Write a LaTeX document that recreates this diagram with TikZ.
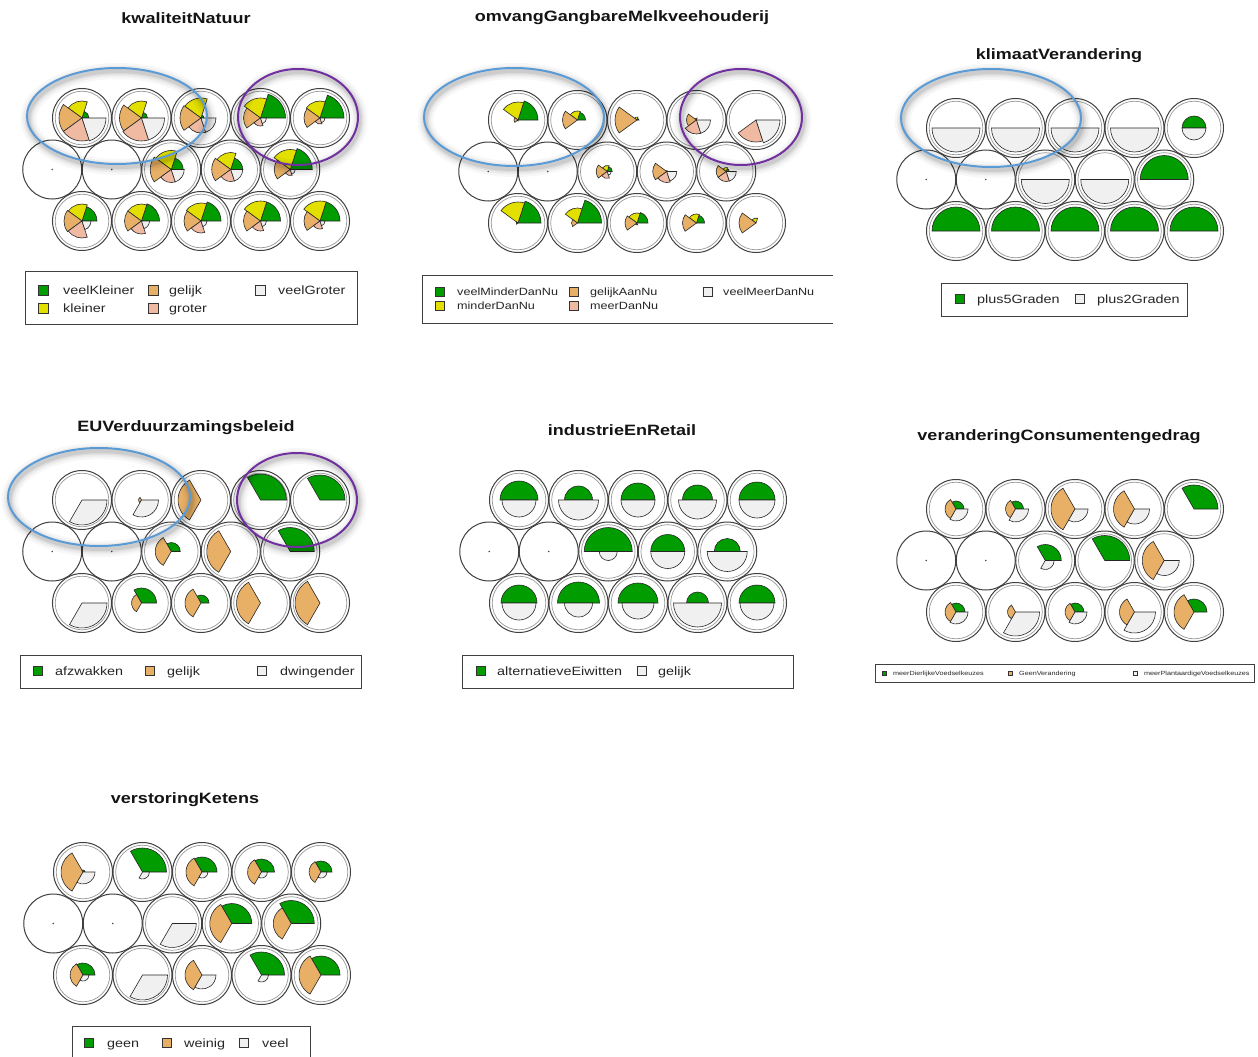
\documentclass[tikz,border=0pt]{standalone}
\usepackage{fontspec}
\setmainfont{Liberation Sans}
\newfontfamily\headfont[FakeStretch=1.2]{Liberation Sans}
\newfontfamily\legfont[FakeStretch=1.2]{Liberation Sans}

% segment colours
\definecolor{sgreen}{HTML}{009C00}
\definecolor{syellow}{HTML}{E3E000}
\definecolor{sorange}{HTML}{E8B066}
\definecolor{ssalmon}{HTML}{F0BAA2}
\definecolor{swhite}{HTML}{F0F0F0}
\definecolor{hiblue}{HTML}{5B9BD5}
\definecolor{hipurple}{HTML}{7030A0}
% palettes: V = five classes, T = three classes, B = two classes
\colorlet{segV1}{sgreen}\colorlet{segV2}{syellow}\colorlet{segV3}{sorange}
\colorlet{segV4}{ssalmon}\colorlet{segV5}{swhite}
\colorlet{segT1}{sgreen}\colorlet{segT2}{sorange}\colorlet{segT3}{swhite}
\colorlet{segB1}{sgreen}\colorlet{segB2}{swhite}

\tikzset{
  unitring/.style={draw=black!75, line width=1pt},
  innerring/.style={draw=black!40, line width=0.7pt},
  wedge/.style={draw=black!85, line width=0.6pt},
  title/.style={font={\headfont\fontsize{15}{17}\selectfont\bfseries}, text=black!92, inner sep=0pt},
  legtext/.style={font={\legfont\fontsize{\legsize}{\legsize}\selectfont}, text=black!85, inner sep=0pt, anchor=base west},
  keysq/.style={draw=black!80, line width=0.8pt, minimum size=\keysize pt, inner sep=0pt},
  legbox/.style={draw=black!75, line width=1pt},
}

% one map unit: row, column, list of segment radii (empty list = empty unit)
\newcommand\cell[3]{%
  \pgfmathsetmacro\cx{\px+(#2-1)*\dx-(#1==2)*\dx/2}%
  \pgfmathsetmacro\cy{\py+(#1-1)*\dy}%
  \begin{scope}[shift={(\cx pt,-\cy pt)}]
    \draw[unitring] (0,0) circle[radius=29.5pt];
    \if\relax\detokenize{#3}\relax
      \fill[black!70] (0,0) circle[radius=0.8pt];
    \else
      \draw[innerring] (0,0) circle[radius=26.8pt];
      \foreach \r [count=\i] in {#3} {
        \ifdim\r pt>0.2pt
          \pgfmathsetmacro\aS{(\i-1)*360/\nseg}
          \pgfmathsetmacro\aE{\i*360/\nseg}
          \filldraw[wedge, fill=seg\pal\i] (0,0) -- (\aS:\r pt)
            arc[start angle=\aS, end angle=\aE, radius=\r pt] -- cycle;
        \fi
      }
    \fi
  \end{scope}}

% highlighted cluster: centre x, centre y, x radius, y radius, colour
\newcommand\hilite[5]{%
  \foreach \w/\o in {16/0.03,11/0.045,7/0.06,4/0.08}{
    \draw[line width=\w pt, black, opacity=\o] (#1+1.5,-#2-3) ellipse[x radius=#3 pt, y radius=#4 pt];}
  \draw[line width=2pt, #5] (#1,-#2) ellipse[x radius=#3 pt, y radius=#4 pt];}

% legend entry: name, square x, text x, y, fill, label
\newcommand\legitem[6]{%
  \node[keysq, fill=#5] (#1k) at (#2,-#4) {};
  \node[legtext] (#1) at (#3,{-#4-0.36*\legsize}) {#6};}

\begin{document}
\begin{tikzpicture}[x=1pt,y=1pt]
\useasboundingbox (0,0) rectangle (1258,-1057);
\fill[white] (0,0) rectangle (1258,-1057);
\clip (0,0) rectangle (1258,-1057);
\def\dx{59.5}\def\dy{51.5}

% ---------------- kwaliteitNatuur
\node[title] (tq) at (186,-18) {kwaliteitNatuur};
\def\px{82}\def\py{118}\def\pal{V}\def\nseg{5}
\cell{1}{1}{7,17,23,23,24}
\cell{1}{2}{6,17,22,23,23}
\cell{1}{3}{3,20,21,15,15}
\cell{1}{4}{25,20,17,8,6}
\cell{1}{5}{24,17,16,6,5}
\cell{2}{1}{}\cell{2}{2}{}
\cell{2}{3}{12,19,21,13,13}
\cell{2}{4}{12,17,19,12,12}
\cell{2}{5}{22,20,16,6,5}
\cell{3}{1}{15,17,18,17,9}
\cell{3}{2}{18,17,17,13,8}
\cell{3}{3}{20,18,17,12,6}
\cell{3}{4}{20,20,17,10,6}
\cell{3}{5}{20,20,16,8,5}
\hilite{117}{116}{90}{48}{hiblue}
\hilite{298}{117}{60}{48}{hipurple}
\draw[legbox] (25,-271) rectangle (357,-324);
\def\legsize{12}\def\keysize{10}
\legitem{qa}{43}{63}{290}{sgreen}{veelKleiner}
\legitem{qb}{43}{63}{308}{syellow}{kleiner}
\legitem{qc}{153}{169}{290}{sorange}{gelijk}
\legitem{qd}{153}{169}{308}{ssalmon}{groter}
\legitem{qe}{260}{278}{290}{swhite}{veelGroter}

% ---------------- omvangGangbareMelkveehouderij
\node[title] (to) at (622,-18) {omvangGangbareMelkveehouderij};
\def\px{518}\def\py{120}\def\pal{V}\def\nseg{5}
\cell{1}{1}{20,18,4,1,0}
\cell{1}{2}{8,9,15,0,0}
\cell{1}{3}{2,3,22,0,0}
\cell{1}{4}{0,2,10,14,14}
\cell{1}{5}{0,0,0,22,24}
\cell{2}{1}{}\cell{2}{2}{}
\cell{2}{3}{5,6,11,7,4}
\cell{2}{4}{0,1,14,11,10}
\cell{2}{5}{3,4,10,10,10}
\cell{3}{1}{23,21,2,0,0}
\cell{3}{2}{24,15,6,0,0}
\cell{3}{3}{11,10,12,2,0}
\cell{3}{4}{8,9,14,0,0}
\cell{3}{5}{0,5,17,0,0}
\hilite{514}{117}{90}{49}{hiblue}
\hilite{741}{117}{61}{48}{hipurple}
\draw[legbox] (833,-275) -- (422,-275) -- (422,-323) -- (833,-323);
\def\legsize{10.5}\def\keysize{8.5}
\legitem{oa}{440}{457}{292}{sgreen}{veelMinderDanNu}
\legitem{ob}{440}{457}{306}{syellow}{minderDanNu}
\legitem{oc}{574}{590}{292}{sorange}{gelijkAanNu}
\legitem{od}{574}{590}{306}{ssalmon}{meerDanNu}
\legitem{oe}{708}{723}{292}{swhite}{veelMeerDanNu}

% ---------------- klimaatVerandering
\node[title] (tk) at (1059,-56) {klimaatVerandering};
\def\px{956}\def\py{128}\def\pal{B}\def\nseg{2}
\cell{1}{1}{0,24}
\cell{1}{2}{0,24}
\cell{1}{3}{0,24}
\cell{1}{4}{0,24}
\cell{1}{5}{12,12}
\cell{2}{1}{}\cell{2}{2}{}
\cell{2}{3}{0,24}
\cell{2}{4}{0,24}
\cell{2}{5}{24,0}
\cell{3}{1}{24,0}
\cell{3}{2}{24,0}
\cell{3}{3}{24,0}
\cell{3}{4}{24,0}
\cell{3}{5}{24,0}
\hilite{991}{118}{90}{49}{hiblue}
\draw[legbox] (941,-283) rectangle (1187,-316);
\def\legsize{12}\def\keysize{9}
\legitem{ka}{960}{977}{299}{sgreen}{plus5Graden}
\legitem{kb}{1080}{1097}{299}{swhite}{plus2Graden}

% ---------------- EUVerduurzamingsbeleid
\node[title] (te) at (186,-428) {EUVerduurzamingsbeleid};
\def\px{82}\def\py{500}\def\pal{T}\def\nseg{3}
\cell{1}{1}{0,0,25}
\cell{1}{2}{0,3,17}
\cell{1}{3}{0,23,0}
\cell{1}{4}{26,0,0}
\cell{1}{5}{25,0,0}
\cell{2}{1}{}\cell{2}{2}{}
\cell{2}{3}{9,16,0}
\cell{2}{4}{0,24,0}
\cell{2}{5}{24,0,0}
\cell{3}{1}{0,0,25}
\cell{3}{2}{15,10,0}
\cell{3}{3}{8,16,0}
\cell{3}{4}{0,24,0}
\cell{3}{5}{0,25,0}
\hilite{99}{497}{91}{49}{hiblue}
\hilite{297}{500}{60}{47}{hipurple}
\draw[legbox] (20,-655) rectangle (361,-688);
\def\legsize{12}\def\keysize{9}
\legitem{ea}{38}{55}{671}{sgreen}{afzwakken}
\legitem{eb}{150}{167}{671}{sorange}{gelijk}
\legitem{ec}{262}{280}{671}{swhite}{dwingender}

% ---------------- industrieEnRetail
\node[title] (ti) at (622,-430) {industrieEnRetail};
\def\px{519}\def\py{500}\def\pal{B}\def\nseg{2}
\cell{1}{1}{19,17}
\cell{1}{2}{14,20}
\cell{1}{3}{17,17}
\cell{1}{4}{15,19}
\cell{1}{5}{18,18}
\cell{2}{1}{}\cell{2}{2}{}
\cell{2}{3}{24,9}
\cell{2}{4}{17,17}
\cell{2}{5}{13,20}
\cell{3}{1}{18,17}
\cell{3}{2}{21,14}
\cell{3}{3}{20,16}
\cell{3}{4}{11,24}
\cell{3}{5}{18,17}
\draw[legbox] (462,-655) rectangle (793,-688);
\def\legsize{12}\def\keysize{9}
\legitem{ia}{481}{497}{671}{sgreen}{alternatieveEiwitten}
\legitem{ib}{642}{658}{671}{swhite}{gelijk}

% ---------------- veranderingConsumentengedrag
\node[title] (tv) at (1059,-437) {veranderingConsumentengedrag};
\def\px{956}\def\py{509}\def\pal{T}\def\nseg{3}
\cell{1}{1}{8,11,12}
\cell{1}{2}{8,10,13}
\cell{1}{3}{0,24,13}
\cell{1}{4}{0,21,15}
\cell{1}{5}{24,0,0}
\cell{2}{1}{}\cell{2}{2}{}
\cell{2}{3}{16,0,9}
\cell{2}{4}{25,0,0}
\cell{2}{5}{0,22,15}
\cell{3}{1}{9,11,12}
\cell{3}{2}{0,8,24}
\cell{3}{3}{9,10,12}
\cell{3}{4}{0,15,21}
\cell{3}{5}{13,20,0}
\draw[legbox, line width=0.8pt] (875,-664) rectangle (1254,-682);
\def\legsize{6}\def\keysize{4}
\legitem{va}{884}{893}{673}{sgreen}{meerDierlijkeVoedselkeuzes}
\legitem{vb}{1010}{1019}{673}{sorange}{GeenVerandering}
\legitem{vc}{1135}{1144}{673}{swhite}{meerPlantaardigeVoedselkeuzes}

% ---------------- verstoringKetens
\node[title] (ts) at (185,-800) {verstoringKetens};
\def\px{83}\def\py{872}\def\pal{T}\def\nseg{3}
\cell{1}{1}{2,22,12}
\cell{1}{2}{24,0,7}
\cell{1}{3}{15,16,6}
\cell{1}{4}{13,14,6}
\cell{1}{5}{11,12,6}
\cell{2}{1}{}\cell{2}{2}{}
\cell{2}{3}{0,0,24}
\cell{2}{4}{20,22,0}
\cell{2}{5}{23,18,0}
\cell{3}{1}{12,13,6}
\cell{3}{2}{0,0,25}
\cell{3}{3}{0,17,14}
\cell{3}{4}{23,0,7}
\cell{3}{5}{19,22,0}
\draw[legbox] (72,-1026) rectangle (310,-1062);
\def\legsize{12}\def\keysize{9}
\legitem{sa}{89}{107}{1043}{sgreen}{geen}
\legitem{sb}{167}{184}{1043}{sorange}{weinig}
\legitem{sc}{244}{262}{1043}{swhite}{veel}
\end{tikzpicture}
\end{document}
